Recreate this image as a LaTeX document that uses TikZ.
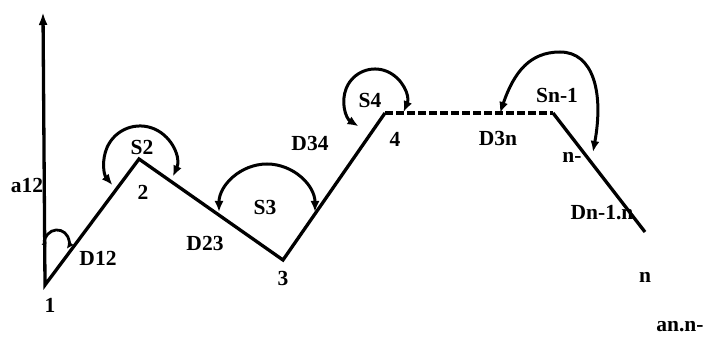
\documentclass[tikz,border=0pt]{standalone}
\usepackage{fontspec}
\setmainfont{Liberation Serif}
\usetikzlibrary{arrows.meta}
\begin{document}
\begin{tikzpicture}[x=1pt,y=-1pt,
  lbl/.style={font=\fontsize{21.5}{22}\selectfont\bfseries, inner sep=0pt},
  edge/.style={line width=3.3pt},
  dashedge/.style={line width=3.6pt, dash pattern=on 8pt off 3pt},
  loopline/.style={line width=3pt, {Latex[length=11pt,width=9pt]}-{Latex[length=11pt,width=9pt]}},
  smallloop/.style={line width=2.8pt, {Latex[length=5pt,width=6pt]}-{Latex[length=7pt,width=7pt]}},
]
\useasboundingbox (0,0) rectangle (707,339);
% vertices
\coordinate (top) at (43,12);
\coordinate (p1) at (45,285);
\coordinate (p2) at (139,159);
\coordinate (p3) at (283,260);
\coordinate (p4) at (385,113);
\coordinate (p5) at (553,113);
\coordinate (p6) at (645,232);
% main polyline
\draw[edge, {Latex[length=13pt,width=9pt]}-] (top) -- (p1) -- (p2) -- (p3) -- (p4);
\draw[dashedge] (p4) -- (p5);
\draw[edge] (p5) -- (p6);
% loops
\coordinate (l1s) at (46.3,247.4);
\draw[smallloop] (l1s) arc[start angle=153, end angle=395, radius=12];
\coordinate (s2s) at (172.9,176.6);
\draw[loopline] (s2s) arc[start angle=24, end angle=-220, radius=36];
\coordinate (s3s) at (315,212);
\draw[loopline] (s3s) arc[start angle=0, end angle=-180, radius=48];
\coordinate (s4s) at (403.5,112.1);
\draw[loopline] (s4s) arc[start angle=23, end angle=-238, radius=31];
\coordinate (sna) at (500,113);
\coordinate (snt) at (560,52);
\coordinate (snb) at (593,152);
\draw[loopline] (sna) .. controls (514,72) and (530,52) .. (snt) .. controls (593,52) and (604,92) .. (snb);
% labels
\node[lbl] (a12) at (27,185) {a12};
\node[lbl] (n1) at (50,305) {1};
\node[lbl] (d12) at (98,258) {D12};
\node[lbl] (s2) at (142,147) {S2};
\node[lbl] (n2) at (143,192) {2};
\node[lbl] (d23) at (205,243) {D23};
\node[lbl] (s3) at (265,207) {S3};
\node[lbl] (n3) at (283,278) {3};
\node[lbl] (d34) at (310,143) {D34};
\node[lbl] (s4) at (370,100) {S4};
\node[lbl] (n4) at (395,139) {4};
\node[lbl] (d3n) at (498,138) {D3n};
\node[lbl] (sn1) at (557,95) {Sn-1};
\node[lbl] (nm) at (572,157) {n-};
\node[lbl] (dn1n) at (602,213) {Dn-1.n};
\node[lbl] (nn) at (645,277) {n};
\node[lbl] (ann) at (680,327) {an.n-};
\end{tikzpicture}
\end{document}
